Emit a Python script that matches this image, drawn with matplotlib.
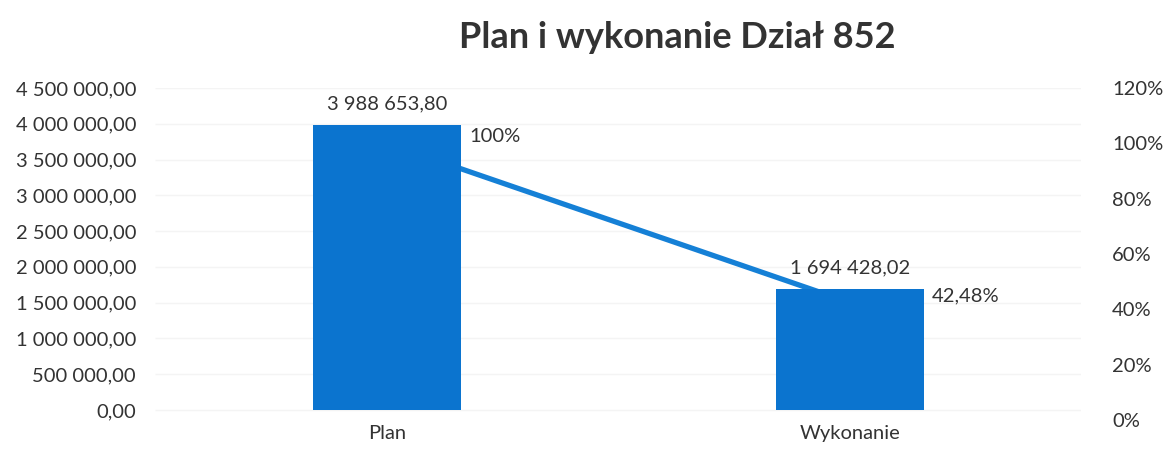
import matplotlib.pyplot as plt
import matplotlib.transforms as mtransforms
import numpy as np

plt.rcParams['font.family'] = ['Lato', 'DejaVu Sans']

# data
categories = ["Plan", "Wykonanie"]
amounts = [3988653.80, 1694428.02]
percents = [1.0, 0.4248]
amount_labels = ["3 988 653,80", "1 694 428,02"]
percent_labels = ["100%", "42,48%"]
left_ticks = [0, 500000, 1000000, 1500000, 2000000, 2500000, 3000000, 3500000, 4000000, 4500000]
right_ticks = [0, 0.2, 0.4, 0.6, 0.8, 1.0, 1.2]

bar_blue = "#0b74cf"
line_blue = "#1580d6"
txt = "#333333"
fs = 14.5


def pl_number(v):
    s = f"{v:,.2f}"
    return s.replace(",", " ").replace(".", ",")


fig = plt.figure(figsize=(11.69, 4.53), dpi=100)
# percent axis sits behind the bar axis, so the line goes under the bars
ax2 = fig.add_axes([0.133, 0.0728, 0.792, 0.733])
ax = fig.add_axes([0.133, 0.0949, 0.792, 0.711])
ax2.set_zorder(1)
ax.set_zorder(2)
ax.patch.set_visible(False)

x = np.arange(len(categories))
ax.bar(x, amounts, width=0.32, color=bar_blue, zorder=2)
ax.set_xlim(-0.5, 1.5)
ax.set_ylim(0, 4500000)
ax.set_yticks(left_ticks)
ax.set_yticklabels([pl_number(v) for v in left_ticks], fontsize=fs, color=txt)
ax.set_xticks(x)
ax.set_xticklabels(categories, fontsize=fs, color=txt)
ax.tick_params(axis='y', length=0, pad=14)
ax.tick_params(axis='x', length=0, pad=11)
for s in ax.spines.values():
    s.set_visible(False)

for xi, v, lab in zip(x, amounts, amount_labels):
    ax.annotate(lab, (xi, v), xytext=(0, 12), textcoords='offset pixels',
                ha='center', va='bottom', fontsize=fs, color=txt)

# faint gridlines of the amount axis, drawn behind everything
ax2.set_xlim(-0.5, 1.5)
ax2.set_ylim(0, 1.2)
grid_tr = mtransforms.blended_transform_factory(ax2.transAxes, ax.transData)
ax2.hlines(left_ticks, 0, 1, transform=grid_tr, color="#f4f4f4", linewidth=1, zorder=0)

ax2.plot(x, percents, color=line_blue, linewidth=3.8, solid_capstyle='butt', zorder=3)
ax2.set_xticks([])
ax2.yaxis.tick_right()
ax2.set_yticks(right_ticks)
ax2.set_yticklabels([f"{int(round(t * 100))}%" for t in right_ticks], fontsize=fs, color=txt)
ax2.tick_params(axis='y', length=0, pad=22)
for s in ax2.spines.values():
    s.set_visible(False)

for xi, p, lab in zip(x, percents, percent_labels):
    ax2.annotate(lab, (xi, p), xytext=(82, 7), textcoords='offset pixels',
                 ha='left', va='center', fontsize=fs, color=txt)

fig.text(0.579, 0.918, "Plan i wykonanie Dział 852", ha='center', va='center',
         fontsize=26, fontweight='bold', color="#333333")

fig.savefig("out.png", dpi=100)
